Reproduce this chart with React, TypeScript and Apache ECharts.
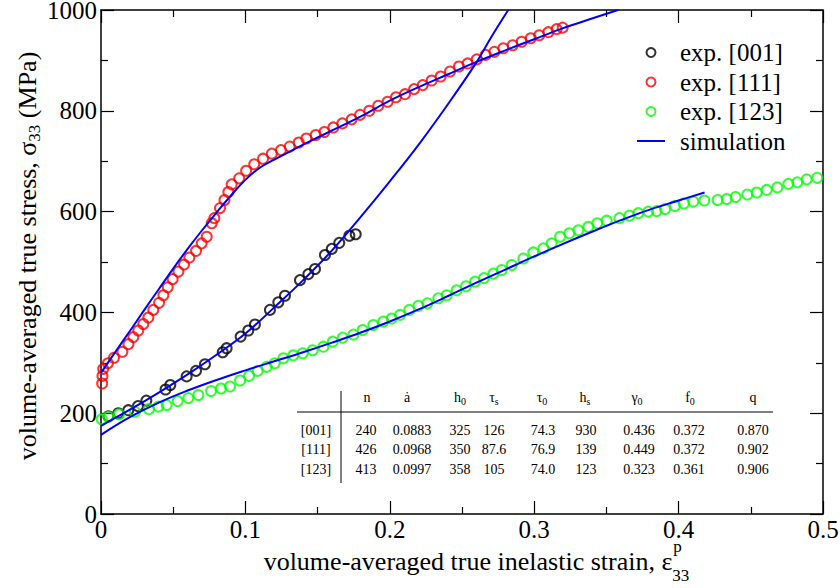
import React, { useEffect, useRef } from 'react';
import * as echarts from 'echarts';

// ---------- data ----------
const exp001: number[][] = [
  [0.0051, 194], [0.012, 200], [0.0189, 206], [0.0256, 214], [0.0314, 225], [0.0447, 247], [0.048, 256],
  [0.0593, 273], [0.0658, 284], [0.072, 297], [0.0843, 321], [0.087, 329], [0.0967, 352], [0.102, 364],
  [0.1066, 376], [0.117, 405], [0.1228, 420], [0.1274, 433], [0.1378, 464], [0.1436, 476], [0.1482, 486],
  [0.1551, 514], [0.1598, 526], [0.165, 538], [0.172, 552], [0.1764, 555],
];

const exp111: number[][] = [
  [0.0008, 259], [0.001, 274], [0.0015, 288], [0.0048, 299], [0.009, 310], [0.0148, 322], [0.019, 337],
  [0.0224, 351], [0.0258, 364], [0.0293, 377], [0.0328, 390], [0.0362, 405], [0.0402, 419], [0.0432, 434],
  [0.0462, 450], [0.0496, 466], [0.0536, 481], [0.0575, 495], [0.0612, 509], [0.0658, 522], [0.0697, 537],
  [0.0732, 550], [0.0767, 577], [0.0785, 587], [0.0824, 607], [0.0855, 623], [0.0882, 639], [0.0905, 654],
  [0.0957, 666], [0.1005, 681], [0.1061, 694], [0.1122, 705], [0.1183, 715], [0.1246, 722], [0.1307, 729],
  [0.1369, 737], [0.1422, 745], [0.1487, 752], [0.1547, 758], [0.1609, 767], [0.1671, 775], [0.1736, 783],
  [0.1794, 792], [0.1858, 800], [0.192, 810], [0.1985, 818], [0.2043, 827], [0.2105, 833], [0.2168, 843],
  [0.2228, 851], [0.229, 860], [0.2352, 868], [0.2417, 878], [0.2479, 888], [0.2539, 894], [0.2602, 902],
  [0.2664, 911], [0.2724, 917], [0.2786, 924], [0.2851, 930], [0.2913, 937], [0.2976, 944], [0.3035, 950],
  [0.3098, 956], [0.3155, 962], [0.3197, 965],
];

const exp123: number[][] = [
  [0.0005, 188], [0.0051, 193], [0.0125, 198], [0.0235, 203], [0.0332, 208], [0.0397, 213], [0.0455, 216],
  [0.0531, 224], [0.0605, 230], [0.0674, 236], [0.0762, 244], [0.0831, 249], [0.0893, 253], [0.0963, 265],
  [0.1025, 274], [0.1085, 284], [0.1147, 292], [0.1203, 299], [0.1263, 309], [0.1332, 315], [0.1397, 319],
  [0.1466, 325], [0.154, 332], [0.1605, 342], [0.1674, 350], [0.1748, 356], [0.1812, 365], [0.1886, 375],
  [0.1955, 382], [0.2013, 388], [0.2071, 395], [0.2135, 405], [0.2198, 413], [0.226, 418], [0.2336, 428],
  [0.2394, 434], [0.2463, 444], [0.2528, 452], [0.259, 461], [0.2652, 468], [0.2717, 477], [0.2775, 484],
  [0.2844, 494], [0.2925, 507], [0.2994, 519], [0.3063, 527], [0.3121, 537], [0.3179, 550], [0.3243, 557],
  [0.3306, 563], [0.3375, 570], [0.3437, 577], [0.3502, 582], [0.359, 587], [0.3659, 592], [0.3721, 597],
  [0.379, 600], [0.3848, 601], [0.3906, 605], [0.3975, 611], [0.4037, 616], [0.4102, 620], [0.4178, 622],
  [0.427, 623], [0.4333, 625], [0.4395, 629], [0.4476, 634], [0.4541, 638], [0.461, 643], [0.4684, 648],
  [0.476, 655], [0.4822, 658], [0.4887, 664], [0.496, 667],
];

const sim001: number[][] = [
  [0, 175], [0.02, 207], [0.04, 241], [0.06, 277], [0.08, 316], [0.1, 358], [0.12, 410], [0.14, 464],
  [0.16, 523], [0.18, 590], [0.2, 660], [0.22, 733], [0.24, 812], [0.26, 896], [0.27, 945], [0.282, 1000],
];

const sim111: number[][] = [
  [0, 280], [0.01, 322], [0.02, 363], [0.03, 405], [0.04, 446], [0.05, 487], [0.06, 526], [0.07, 563],
  [0.08, 598], [0.09, 632], [0.1, 663], [0.11, 687], [0.12, 703], [0.13, 718], [0.14, 733], [0.15, 747],
  [0.16, 761], [0.18, 789], [0.2, 820], [0.22, 847], [0.24, 872], [0.26, 897], [0.28, 920], [0.3, 942],
  [0.32, 964], [0.34, 983], [0.358, 1000],
];

const sim123: number[][] = [
  [0, 157], [0.02, 192], [0.04, 221], [0.06, 245], [0.08, 266], [0.1, 285], [0.12, 303], [0.14, 321],
  [0.16, 340], [0.18, 360], [0.2, 382], [0.22, 406], [0.24, 432], [0.26, 459], [0.28, 485], [0.3, 511],
  [0.32, 536], [0.34, 560], [0.36, 583], [0.38, 604], [0.4, 622], [0.418, 638],
];

const legendNames = ['exp. [001]', 'exp. [111]', 'exp. [123]', 'simulation'];

// inset table of fitted parameters
const tableHeaders = ['n', 'ȧ', 'h{s|0}', 'τ{s|s}', 'τ{s|0}', 'h{s|s}', 'γ{s|0}', 'f{s|0}', 'q'];
const tableRowLabels = ['[001]', '[111]', '[123]'];
const row001 = ['240', '0.0883', '325', '126', '74.3', '930', '0.436', '0.372', '0.870'];
const row111 = ['426', '0.0968', '350', '87.6', '76.9', '139', '0.449', '0.372', '0.902'];
const row123 = ['413', '0.0997', '358', '105', '74.0', '123', '0.323', '0.361', '0.906'];

const FONT = 'Liberation Serif';

export default function App() {
  const ref = useRef<HTMLDivElement>(null);

  useEffect(() => {
    document.body.style.margin = '0';
    const chart = echarts.init(ref.current!, null, { renderer: 'svg' });

    // measure x-axis title for placing the stacked sub/superscript
    const xTitleMain = 'volume-averaged true inelastic strain, ε';
    const titleSize = 26;
    let mainW = 420;
    const ctx = document.createElement('canvas').getContext('2d');
    if (ctx) {
      ctx.font = `${titleSize}px "Liberation Serif"`;
      mainW = ctx.measureText(xTitleMain).width;
    }
    const xTitleCenter = 476;
    const xTitleLeft = xTitleCenter - (mainW + 16) / 2;

    // table layout
    const headerX = [367, 407, 460, 494, 542, 585, 637, 690, 753];
    const valueX = [366, 412, 460, 494, 543, 586, 639, 689, 753];
    const headerY = 397;
    const rowY = [430, 449, 469];
    const labelX = 316;
    const tableRich = {
      s: { fontSize: 10, fontFamily: FONT, color: '#000', verticalAlign: 'bottom', lineHeight: 10 },
    };
    const tableText = (x: number, y: number, t: string) => ({
      type: 'text',
      x,
      y,
      silent: true,
      style: {
        text: t,
        fontSize: 14,
        fontFamily: FONT,
        fill: '#000',
        align: 'center',
        verticalAlign: 'middle',
        lineHeight: 18,
        rich: tableRich,
      },
    });
    const tableEls: any[] = [];
    tableHeaders.forEach((h, i) => tableEls.push(tableText(headerX[i], headerY, h)));
    [row001, row111, row123].forEach((row, r) => {
      tableEls.push(tableText(labelX, rowY[r], tableRowLabels[r]));
      row.forEach((v, i) => tableEls.push(tableText(valueX[i], rowY[r], v)));
    });
    tableEls.push({
      type: 'line',
      silent: true,
      shape: { x1: 297, y1: 412, x2: 773, y2: 412 },
      style: { stroke: '#000', lineWidth: 1 },
    });
    tableEls.push({
      type: 'line',
      silent: true,
      shape: { x1: 341, y1: 391, x2: 341, y2: 483 },
      style: { stroke: '#000', lineWidth: 1 },
    });

    const axisCommon = {
      axisLine: { show: true, onZero: false, lineStyle: { color: '#000', width: 1.5 } },
      axisTick: { show: true, inside: true, length: 13, lineStyle: { color: '#000', width: 1.2 } },
      minorTick: { show: true, splitNumber: 2, length: 7, lineStyle: { color: '#000', width: 1.2 } },
      splitLine: { show: false },
      minorSplitLine: { show: false },
    };
    const xLabel = {
      fontSize: 25,
      fontFamily: FONT,
      color: '#000',
      formatter: (v: number) => String(v),
      margin: 3,
    };
    const yLabel = {
      fontSize: 25,
      fontFamily: FONT,
      color: '#000',
      formatter: (v: number) => String(v),
      margin: 4,
    };

    const scatter = (name: string, data: number[][], color: string) => ({
      name,
      type: 'scatter',
      data,
      symbol: 'circle',
      symbolSize: 10,
      itemStyle: { color: 'rgba(255,255,255,0)', borderColor: color, borderWidth: 2 },
      z: 2,
    });
    const simLine = (data: number[][]) => ({
      name: 'simulation',
      type: 'line',
      data,
      smooth: 0.4,
      showSymbol: false,
      symbol: 'none',
      lineStyle: { color: '#0000ff', width: 2 },
      itemStyle: { color: '#0000ff' },
      z: 3,
    });

    const option: any = {
      animation: false,
      backgroundColor: '#fff',
      textStyle: { fontFamily: FONT },
      grid: { left: 101, right: 17, top: 10, bottom: 74, containLabel: false, outerBoundsMode: 'none' },
      xAxis: [
        {
          type: 'value', min: 0, max: 0.5, interval: 0.1, position: 'bottom',
          ...axisCommon,
          axisLabel: xLabel,
        },
        {
          type: 'value', min: 0, max: 0.5, interval: 0.1, position: 'top',
          ...axisCommon,
          axisLabel: { show: false },
        },
      ],
      yAxis: [
        {
          type: 'value', min: 0, max: 1000, interval: 200, position: 'left',
          ...axisCommon,
          axisLabel: yLabel,
        },
        {
          type: 'value', min: 0, max: 1000, interval: 200, position: 'right',
          ...axisCommon,
          axisLabel: { show: false },
        },
      ],
      legend: {
        orient: 'vertical',
        left: 637,
        top: 40,
        padding: 0,
        itemWidth: 28,
        itemHeight: 9,
        itemGap: 4.5,
        data: [
          legendNames[0],
          legendNames[1],
          legendNames[2],
          { name: legendNames[3], icon: 'path://M0 0 H28 V2 H0 Z' },
        ],
        textStyle: {
          fontSize: 25,
          fontFamily: FONT,
          color: '#000',
          padding: [0, 0, 0, 10],
        },
      },
      series: [
        scatter(legendNames[0], exp001, '#000000'),
        scatter(legendNames[1], exp111, '#ff0000'),
        scatter(legendNames[2], exp123, '#00ff00'),
        simLine(sim001),
        simLine(sim111),
        simLine(sim123),
      ],
      graphic: [
        {
          type: 'text',
          x: 27,
          y: 256,
          rotation: Math.PI / 2,
          silent: true,
          style: {
            text: 'volume-averaged true stress, σ{s|33} (MPa)',
            fontSize: titleSize,
            fontFamily: FONT,
            fill: '#000',
            align: 'center',
            verticalAlign: 'middle',
            lineHeight: 32,
            rich: { s: { fontSize: 17, fontFamily: FONT, color: '#000', verticalAlign: 'bottom', lineHeight: 17 } },
          },
        },
        {
          type: 'text',
          x: xTitleLeft,
          y: 561,
          silent: true,
          style: { text: xTitleMain, fontSize: titleSize, fontFamily: FONT, fill: '#000', align: 'left', verticalAlign: 'middle' },
        },
        {
          type: 'text',
          x: xTitleLeft + mainW,
          y: 575,
          silent: true,
          style: { text: '33', fontSize: 17, fontFamily: FONT, fill: '#000', align: 'left', verticalAlign: 'middle' },
        },
        {
          type: 'text',
          x: xTitleLeft + mainW + 1,
          y: 546,
          silent: true,
          style: { text: 'p', fontSize: 17, fontFamily: FONT, fill: '#000', align: 'left', verticalAlign: 'middle' },
        },
        ...tableEls,
      ],
    };

    chart.setOption(option);
    return () => chart.dispose();
  }, []);

  return (
    <>
      <style>{`#chart-root svg text, #chart-root svg tspan { font-family: 'Liberation Serif', 'Times New Roman', serif !important; }`}</style>
      <div id="chart-root" ref={ref} style={{ width: 840, height: 588 }} />
    </>
  );
}
